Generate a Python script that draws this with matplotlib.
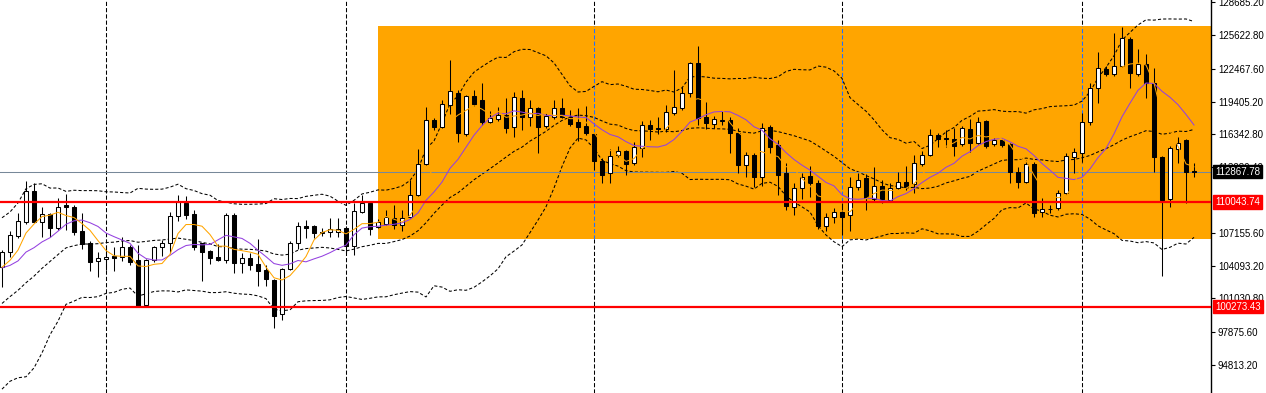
import matplotlib
matplotlib.use('Agg')
import matplotlib.pyplot as plt
from matplotlib.patches import Rectangle
import numpy as np
import pandas as pd

plt.rcParams['font.family'] = ['Liberation Sans', 'DejaVu Sans']

# closes before the first visible bar (only used to warm up the indicators)
prev_closes = [94200, 96500, 96900, 95900, 94300, 94700, 96800, 97000, 103200, 102900,
               104600, 104100, 102800, 104100, 103500, 103700, 103500, 103100, 104000]

# daily OHLC
opens = [103990, 105390, 106890, 108190, 111060, 108190, 108880, 107630, 109720, 109590,
         107320, 106230, 104550, 104740, 104990, 104920, 105800, 104620, 100410, 104620,
         105860, 106180, 108720, 109970, 108880, 106200, 105460, 104900, 104620, 108820,
         104310, 104780, 104210, 103680, 102750, 99580, 103750, 106180, 107790, 107790,
         107110, 107260, 107260, 107580, 105900, 109130, 109910, 107730, 108000, 108570,
         107880, 108660, 110690, 113580, 117690, 117010, 119060, 120240, 116350, 119970,
         119550, 117470, 117750, 118110, 116990, 119710, 117940, 118780, 117100, 117940,
         118780, 118010, 117530, 117130, 116410, 113890, 112710, 114420, 114790, 113640,
         115050, 117220, 116910, 116820, 118310, 118780, 120180, 123040, 117970, 117310,
         117620, 117690, 116450, 113530, 114390, 112340, 117010, 115310, 112770, 109540,
         111310, 112460, 111830, 107760, 108600, 109070, 108820, 111400, 112300, 110280,
         111550, 110220, 111370, 111930, 111710, 113550, 114420, 116290, 115980, 115910,
         115420, 116850, 115570, 117590, 115420, 115820, 115420, 112860, 111930, 113580,
         109130, 109410, 109440, 110840, 114260, 114630, 117530, 120650, 122420, 121950,
         122760, 125250, 121950, 122890, 121110, 114260, 110310, 114950, 115820, 112950]
highs = [105550, 107320, 108980, 111990, 111780, 109590, 109030, 110380, 110780, 109750,
         109030, 106390, 105390, 106020, 105860, 106790, 106020, 106020, 104700, 105920,
         106480, 109130, 110690, 110590, 109280, 106230, 105550, 106110, 108980, 109030,
         105240, 105240, 106580, 104150, 102840, 103840, 106390, 108190, 108350, 107880,
         107600, 108510, 108510, 107790, 109910, 110730, 109940, 108400, 109240, 109750,
         109280, 112090, 114950, 118930, 117850, 119550, 123290, 120490, 120020, 120490,
         121110, 118560, 118930, 119710, 120330, 120530, 119550, 118870, 118340, 119600,
         119760, 118620, 118780, 118990, 116470, 114140, 114950, 115260, 114890, 115660,
         117590, 117690, 117940, 119090, 122350, 120800, 123100, 124640, 119400, 118030,
         118560, 118000, 116960, 114730, 114610, 117380, 117220, 115820, 113640, 111830,
         112740, 113390, 112090, 108980, 109440, 109970, 112340, 112770, 112650, 113330,
         112090, 111810, 112860, 113390, 114420, 114790, 116820, 116470, 116750, 116910,
         117130, 117750, 118000, 117690, 116010, 115960, 115540, 113330, 113950, 113770,
         110380, 109750, 111150, 114580, 115050, 118310, 121110, 124060, 122730, 125780,
         126400, 125430, 124290, 123850, 122570, 114330, 115260, 116070, 115910, 113640]
lows = [102070, 104870, 106670, 107950, 108140, 106740, 106790, 107420, 107420, 106950,
        105640, 103620, 103060, 103680, 103620, 104520, 104150, 100280, 100320, 104430,
        104990, 105240, 108290, 108420, 105550, 102700, 104270, 104480, 104370, 103380,
        103380, 103680, 102190, 102190, 98240, 99020, 103640, 105640, 106640, 106640,
        106860, 106790, 106790, 105240, 105040, 109050, 106950, 107560, 107880, 107480,
        107350, 108540, 110590, 113490, 116750, 116940, 118250, 115660, 116190, 118990,
        117220, 117380, 117590, 116500, 116130, 116750, 117130, 114630, 116940, 117780,
        117830, 117130, 115770, 116290, 113050, 111830, 111830, 114230, 112550, 113490,
        114200, 115820, 116380, 116570, 118150, 118620, 119800, 117220, 116820, 116910,
        117220, 114630, 112710, 112370, 111460, 111570, 114580, 110730, 109310, 108790,
        110280, 110530, 107480, 107320, 108100, 106950, 107350, 111150, 109280, 110130,
        109940, 110080, 111200, 111150, 110840, 113390, 114330, 115140, 115190, 114330,
        115260, 114730, 115450, 115050, 115260, 115170, 111780, 111310, 111810, 108600,
        108600, 109030, 109280, 110690, 112710, 113700, 117220, 119300, 121800, 121800,
        122630, 120650, 121800, 119710, 112860, 103120, 109590, 113640, 109910, 112390]
closes = [105390, 106950, 108260, 111060, 108190, 108880, 107630, 109590, 109540, 107260,
          106080, 104460, 104780, 104920, 104830, 105800, 104460, 100320, 104620, 105860,
          106180, 108720, 110060, 108820, 105860, 105390, 104830, 104640, 108820, 104370,
          104780, 104150, 103620, 102820, 99420, 103750, 106180, 107790, 107580, 107110,
          107260, 107480, 107510, 105920, 109190, 109940, 107510, 108140, 108660, 107880,
          108570, 110690, 113580, 117690, 117010, 119150, 120390, 116500, 119900, 119180,
          117530, 117870, 118110, 116970, 119810, 117970, 118780, 116990, 118060, 118780,
          117940, 117270, 117060, 116500, 113860, 112550, 114350, 114820, 113550, 115140,
          117220, 116820, 116820, 118460, 118870, 120180, 123040, 117850, 117380, 117750,
          117690, 116450, 113490, 114390, 112340, 116910, 115190, 112550, 109690, 111310,
          112370, 111830, 107820, 108600, 109070, 108660, 111400, 112090, 110380, 111550,
          110280, 111310, 111930, 111460, 113640, 114420, 116260, 115910, 115930, 115260,
          116910, 115570, 117530, 115260, 115820, 115350, 112860, 111870, 113550, 109030,
          109350, 109380, 110840, 114330, 114670, 117470, 120650, 122510, 121950, 122760,
          125310, 122050, 122890, 121110, 114260, 110220, 115050, 115570, 112860, 112867.78]

# right price scale
tick_values = [128685.20, 125622.80, 122467.60, 119405.20, 116342.80, 113280.40,
               107155.60, 104093.20, 101030.80, 97875.60, 94813.20]
tick_labels = ['%.2f' % v for v in tick_values]

# chart objects
level_lines = [110043.74, 100273.43]
bid_price = 112867.78
zone_start = 47
zone_top = 126460
zone_bottom = 106580
month_starts = [13, 43, 74, 105, 135]

o = np.array(opens, dtype=float)
h = np.array(highs, dtype=float)
l = np.array(lows, dtype=float)
c = np.array(closes, dtype=float)
n = len(c)
x = np.arange(n)

# indicators
all_close = pd.Series(prev_closes + closes, dtype=float)
k = len(prev_closes)
ma5 = all_close.rolling(5).mean().to_numpy()[k:]
ma10 = all_close.rolling(10).mean().to_numpy()[k:]
bb_mid = all_close.rolling(20).mean()
bb_sd = all_close.rolling(20).std(ddof=0)
bb_up = (bb_mid + 2 * bb_sd).to_numpy()[k:]
bb_dn = (bb_mid - 2 * bb_sd).to_numpy()[k:]
bb_mid = bb_mid.to_numpy()[k:]

fig = plt.figure(figsize=(12.66, 3.93), dpi=100)
ax = fig.add_axes([0, 0, 1211 / 1266, 1])
ax.set_xlim(-0.25, 151.125)
ax.set_ylim(92199, 128890)

# orange zone
ax.add_patch(Rectangle((zone_start, zone_bottom), 200, zone_top - zone_bottom,
                       facecolor='#ffa500', edgecolor='none', zorder=0.5))

# month separators (blue where they cross the zone)
for m in month_starts:
    ax.axvline(m, color='black', lw=0.75, ls=(0, (4, 2)), zorder=0.4)
    if m >= zone_start:
        ax.plot([m, m], [zone_bottom, zone_top], color='#1f6fff', lw=0.75,
                ls=(0, (4, 2)), zorder=0.6)

# bollinger bands
for band in (bb_up, bb_mid, bb_dn):
    ax.plot(x, band, color='black', lw=0.75, ls=(0, (3, 2)), zorder=2)

# candles
ax.vlines(x, l, h, color='black', lw=0.75, zorder=3)
up = c >= o
bottom = np.minimum(o, c)
height = np.maximum(np.abs(c - o), 20)
ax.bar(x[up], height[up], bottom=bottom[up], width=0.62, facecolor='white',
       edgecolor='black', lw=0.75, zorder=4)
ax.bar(x[~up], height[~up], bottom=bottom[~up], width=0.62, facecolor='black',
       edgecolor='black', lw=0.75, zorder=4)

# moving averages
ax.plot(x, ma10, color='#9440e0', lw=0.75, zorder=5)
ax.plot(x, ma5, color='#ffa500', lw=0.75, zorder=5)

# horizontal levels
ax.axhline(bid_price, color='#778899', lw=0.75, zorder=2.5)
for lv in level_lines:
    ax.axhline(lv, color='red', lw=1.6, zorder=6)

# price axis
for s in ('left', 'top', 'bottom'):
    ax.spines[s].set_visible(False)
ax.spines['right'].set_linewidth(1.0)
ax.set_xticks([])
ax.yaxis.tick_right()
ax.set_yticks(tick_values)
ax.set_yticklabels(tick_labels)
ax.tick_params(axis='y', direction='out', length=3, width=0.8, pad=2, labelsize=7)

# highlighted price labels (drawn over the regular tick labels, as on the terminal)
ax.text(1.0035, bid_price, '%.2f' % bid_price, transform=ax.get_yaxis_transform(),
        color='white', fontsize=7, va='center', ha='left', clip_on=False, zorder=10,
        bbox=dict(boxstyle='square,pad=0.18', facecolor='black', edgecolor='black'))
for lv in level_lines:
    ax.text(1.0035, lv, '%.2f' % lv, transform=ax.get_yaxis_transform(),
            color='white', fontsize=7, va='center', ha='left', clip_on=False, zorder=10,
            bbox=dict(boxstyle='square,pad=0.18', facecolor='red', edgecolor='red'))

fig.savefig('out.png', dpi=100)
